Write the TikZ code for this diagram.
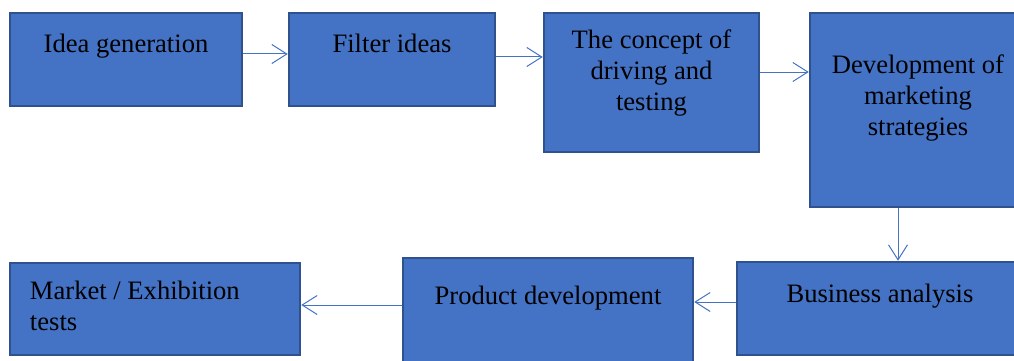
\documentclass[tikz,border=0pt]{standalone}
\usepackage{fontspec}
\setmainfont{Liberation Serif}
\usetikzlibrary{arrows.meta}
\definecolor{boxfill}{HTML}{4472C4}
\definecolor{boxline}{HTML}{2F528F}
\begin{document}
\begin{tikzpicture}[x=1pt,y=-1pt,
        stage/.style={draw=boxline, fill=boxfill, line width=2.5pt, rectangle, inner sep=0pt},
        lbl/.style={font=\fontsize{26.6}{31}\selectfont, align=center, inner sep=0pt},
        flow/.style={draw=boxfill, line width=1pt, -{Straight Barb[length=15pt,width=19pt]}}]
        \useasboundingbox (0,0) rectangle (1014,361);
        \clip (0,0) rectangle (1014,361);
        % stages
        \node[stage, minimum width=232pt, minimum height=93pt]  (idea)     at (126,59.5)  {};
        \node[stage, minimum width=206pt, minimum height=93pt]  (filter)   at (392,59.5)  {};
        \node[stage, minimum width=215pt, minimum height=139pt] (concept)  at (651.5,82.5) {};
        \node[stage, minimum width=216pt, minimum height=194pt] (strategy) at (918,110)   {};
        \node[stage, minimum width=286pt, minimum height=93pt]  (business) at (880,308.5) {};
        \node[stage, minimum width=290pt, minimum height=107pt] (product)  at (548,311.5) {};
        \node[stage, minimum width=290pt, minimum height=92pt]  (market)   at (155,309)   {};
        % labels
        \node[lbl, anchor=base]  (ideatext)     at ([yshift=-41pt]idea.north)     {Idea generation};
        \node[lbl, anchor=base]  (filtertext)   at ([yshift=-41pt]filter.north)   {Filter ideas};
        \node[lbl, anchor=north] (concepttext)  at ([yshift=-18pt]concept.north)  {The concept of\\driving and\\testing};
        \node[lbl, anchor=north] (strategytext) at ([yshift=-43pt]strategy.north) {Development of\\marketing\\strategies};
        \node[lbl, anchor=base]  (businesstext) at ([yshift=-42pt]business.north) {Business analysis};
        \node[lbl, anchor=base]  (producttext)  at ([yshift=-48pt]product.north)  {Product development};
        \node[lbl, anchor=north west, align=left] (markettext) at ([xshift=21pt,yshift=-19pt]market.north west) {Market / Exhibition\\tests};
        % flow
        \draw[flow] (idea.east |- 0,54)      -- (filter.west |- 0,54);
        \draw[flow] (filter.east |- 0,57)    -- (concept.west |- 0,57);
        \draw[flow] (concept.east |- 0,72)   -- (strategy.west |- 0,72);
        \draw[flow] (strategy.south -| 898,0) -- (business.north -| 898,0);
        \draw[flow] (business.west |- 0,302) -- (product.east |- 0,302);
        \draw[flow] (product.west |- 0,305)  -- (market.east |- 0,305);
    \end{tikzpicture}
\end{document}
